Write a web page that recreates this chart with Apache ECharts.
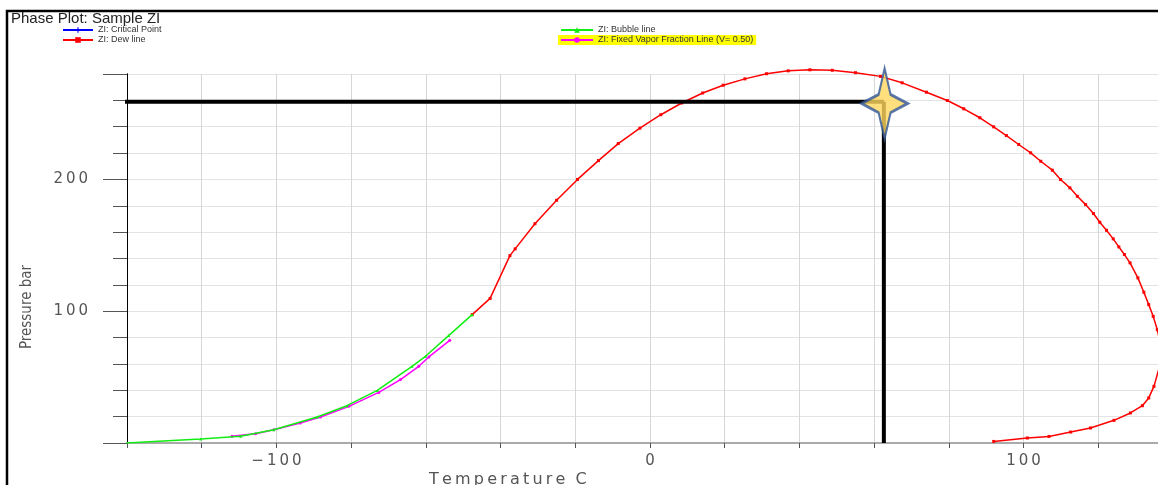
<!DOCTYPE html>
<html>
<head>
<meta charset="utf-8">
<script src="https://cdn.jsdelivr.net/npm/echarts@6/dist/echarts.min.js"></script>
<style>
  html, body { margin: 0; padding: 0; background: #fff; }
  #chart { width: 1158px; height: 485px; }
</style>
</head>
<body>
<div id="chart"></div>
<script>
/* Phase plot: dew / bubble / V=0.5 lines, temperature C vs pressure bar */
var xLabelTicks = [-100, 0, 100];
var yLabelTicks = [100, 200];

var criticalPoint = [];
var dewLine = [
  [-47.6, 97.4], [-42.8, 109.7], [-37.5, 142.2], [-36.1, 147.3], [-30.8, 166.4],
  [-25.0, 184.2], [-19.4, 200.0], [-13.8, 214.3], [-8.5, 227.2], [-2.7, 238.9],
  [2.9, 249.1], [8.5, 258.0], [14.1, 265.6], [19.6, 271.5], [25.4, 276.3],
  [31.2, 280.2], [37.0, 282.4], [42.8, 283.2], [48.8, 282.8], [55.0, 281.0],
  [61.7, 278.2], [67.5, 273.3], [74.0, 266.2], [79.6, 259.9], [84.0, 253.6],
  [88.3, 246.8], [92.0, 239.9], [95.4, 233.3], [98.7, 226.5], [101.9, 220.2],
  [104.6, 213.8], [107.7, 207.0], [109.9, 199.9], [112.4, 193.6], [114.4, 187.2],
  [116.6, 180.9], [118.7, 174.1], [120.4, 167.5], [122.2, 161.4], [124.0, 154.9],
  [125.5, 148.8], [127.0, 143.0], [128.5, 136.7], [130.6, 125.3], [132.2, 114.4],
  [133.5, 105.0], [134.7, 96.1], [135.8, 86.0], [136.4, 78.0], [136.7, 68.0],
  [136.4, 58.0], [134.9, 43.0], [133.5, 34.2], [131.8, 28.3], [128.6, 22.8],
  [124.2, 17.2], [117.9, 11.4], [112.6, 8.3], [106.8, 5.0], [101.0, 3.8],
  [92.0, 1.2]
];
var bubbleLine = [
  [-140.2, 0], [-120.3, 3.0], [-109.6, 5.1], [-100.7, 10.1], [-89.1, 19.7],
  [-81.1, 28.3], [-73.0, 39.9], [-63.7, 58.2], [-60.1, 65.8], [-53.9, 81.5],
  [-47.6, 97.4]
];
var fixedVapor = [
  [-111.9, 5.1], [-105.6, 7.1], [-100.7, 10.1], [-93.6, 15.2], [-88.2, 19.7],
  [-80.6, 27.8], [-72.6, 38.4], [-66.8, 48.1], [-61.9, 58.2], [-59.2, 65.3],
  [-53.6, 77.9]
];
// hand-drawn annotation: guide lines meeting at the star
var guideH = [[-142.4, 259], [62.6, 259]];
var guideV = [[62.6, 259], [62.6, 0]];
var starPoint = [[62.8, 257.6]];

(function(){
  var el = document.getElementById('chart');
  var c = echarts.init(el);
  var font = 'Liberation Sans';
  var tick = '#555';

  function spaced(s) { return s.split('').join('\u2009'); }
  function num(v) { return v < 0 ? '\u2212' + Math.abs(v) : String(v); }

  var legendText = { fontFamily: font, fontSize: 9, lineHeight: 10, color: '#333' };

  c.setOption({
    backgroundColor: '#fff',
    animation: false,
    title: {
      text: 'Phase Plot: Sample ZI', left: 11, top: 11, padding: 0,
      textStyle: { fontFamily: font, fontSize: 15, fontWeight: 'normal', color: '#222' }
    },
    legend: [
      { data: ['ZI: Critical Point', 'ZI: Dew line'], orient: 'vertical', left: 62, top: 25,
        padding: 0, itemWidth: 30, itemHeight: 7, itemGap: 0, textStyle: legendText },
      { data: ['ZI: Bubble line'], left: 560, top: 25, padding: 0,
        itemWidth: 32, itemHeight: 7, textStyle: legendText },
      { data: ['ZI: Fixed Vapor Fraction Line (V= 0.50)'], left: 558, top: 35, padding: [0, 3, 0, 2],
        backgroundColor: '#ffff00', itemWidth: 32, itemHeight: 7, textStyle: legendText }
    ],
    grid: { left: 127, top: 74, width: 1046, height: 369, containLabel: false, outerBoundsMode: 'none' },
    xAxis: {
      type: 'value', min: -140, max: 140, interval: 20,
      axisLine: { onZero: false, lineStyle: { color: '#aaa', width: 2 } },
      axisTick: { length: 5, lineStyle: { color: '#555' } },
      splitLine: { show: true, lineStyle: { color: '#d6d6d6' } },
      axisLabel: {
        margin: 11, color: tick, fontFamily: 'DejaVu Sans', fontSize: 15,
        formatter: function(v){ return xLabelTicks.indexOf(v) >= 0 ? spaced(num(v)) : ''; }
      }
    },
    yAxis: [
      { type: 'value', min: 0, max: 280, interval: 20,
        axisLine: { show: true, onZero: false, lineStyle: { color: '#000', width: 1 } },
        axisTick: { show: true, length: 14, lineStyle: { color: '#555' } },
        splitLine: { show: true, lineStyle: { color: '#e3e3e3' } },
        axisLabel: { show: false } },
      { type: 'value', min: 0, max: 280, interval: 100, position: 'left',
        axisLine: { show: true, onZero: false, lineStyle: { color: '#000', width: 1 } },
        axisTick: { show: true, length: 24, lineStyle: { color: '#555' } },
        splitLine: { show: false },
        axisLabel: {
          margin: 39, padding: [6, 0, 0, 0], color: tick, fontFamily: 'DejaVu Sans', fontSize: 15,
          formatter: function(v){ return yLabelTicks.indexOf(v) >= 0 ? spaced(num(v)) : ''; }
        } }
    ],
    series: [
      { name: 'ZI: Critical Point', type: 'line', data: criticalPoint, color: '#0000ff',
        symbol: 'path://M4,0h2v4h4v2h-4v4h-2v-4h-4v-2h4z', symbolSize: 6 },
      { name: 'ZI: Dew line', type: 'line', data: dewLine, color: '#ff0000', clip: false,
        lineStyle: { width: 1.5 }, symbol: 'rect', symbolSize: 3, z: 3 },
      { name: 'ZI: Bubble line', type: 'line', data: bubbleLine, color: '#11ee11',
        lineStyle: { width: 1.5 }, symbol: 'triangle', symbolSize: 3, z: 4 },
      { name: 'ZI: Fixed Vapor Fraction Line (V= 0.50)', type: 'line', data: fixedVapor, color: '#ff00ff',
        lineStyle: { width: 1.5 }, symbol: 'circle', symbolSize: 3, z: 3 },
      { type: 'line', data: guideH, clip: false, symbol: 'none', z: 5,
        lineStyle: { color: '#000', width: 4 } },
      { type: 'line', data: guideV, clip: false, symbol: 'none', z: 5,
        lineStyle: { color: '#000', width: 4 } },
      { type: 'scatter', data: starPoint, z: 6, clip: false,
        symbol: 'path://M50,0 L63,37 L100,50 L63,63 L50,100 L37,63 L0,50 L37,37 Z',
        symbolSize: [46, 70],
        itemStyle: { color: '#ffd75e', borderColor: '#2f5597', borderWidth: 2.5 } }
    ],
    graphic: [
      { type: 'rect', shape: { x: 7, y: 11, width: 1200, height: 520 }, silent: true,
        style: { fill: 'none', stroke: '#000', lineWidth: 2.5 } },
      { type: 'text', x: 27, y: 307, rotation: Math.PI / 2, silent: true,
        style: { text: 'Pressure bar', fill: tick, font: '15px "DejaVu Sans Condensed", "DejaVu Sans"',
                 align: 'center', verticalAlign: 'middle' } },
      { type: 'text', x: 429, y: 480, silent: true,
        style: { text: spaced('Temperature') + '  C', fill: tick, font: '16px "DejaVu Sans"',
                 align: 'left', verticalAlign: 'middle' } }
    ]
  });
})();
</script>
</body>
</html>
